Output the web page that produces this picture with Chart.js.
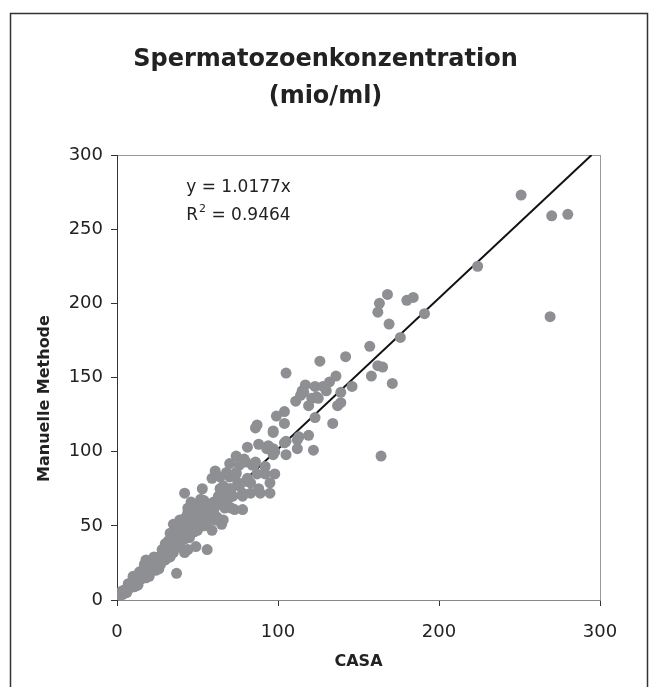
<!DOCTYPE html>
<html>
<head>
<meta charset="utf-8">
<script src="https://cdn.jsdelivr.net/npm/chart.js@4"></script>
<style>
  html, body { margin: 0; padding: 0; background: #fff; }
</style>
</head>
<body>
<canvas id="chart" width="651" height="687"></canvas>
<script>
// CASA (x) and manual count (y) per sample, mio/ml
const casa = [
  251, 270, 280, 224, 269, 168, 163, 180, 184, 162, 191, 169, 176, 157, 142, 162, 165, 158, 171, 136,
  146, 139, 132, 137, 139, 134, 164, 126, 105, 130, 117, 123, 128, 115, 111, 121, 125, 119, 123, 104,
  99, 104, 86, 87, 97, 105, 112, 119, 122, 112, 105, 97, 94, 88, 81, 97, 86, 84, 79, 74,
  70, 76, 92, 98, 95, 89, 81, 74, 70, 75, 61, 64, 59, 53, 42, 66, 70, 76, 83, 78,
  83, 73, 78, 66, 62, 65, 97, 116, 114, 124, 113, 98, 88, 95, 71, 52, 47, 54, 60, 64,
  58, 62, 43, 39, 35, 45, 50, 54, 37, 49, 56, 61, 42, 0, 1, 3, 7, 10, 14, 17,
  18, 23, 28, 32, 33, 36, 40, 44, 49, 54, 42, 38, 46, 50, 44, 35, 21, 15, 11, 5,
  25, 30, 38, 42, 52, 57, 59, 87, 93, 104, 92, 80, 85, 68, 74, 80, 71, 64, 78, 68,
  2, 4, 6, 8, 9, 12, 13, 16, 19, 20, 22, 24, 26, 27, 29, 31, 33, 34, 36, 37,
  39, 40, 41, 43, 45, 46, 47, 48, 50, 52, 53, 55, 56, 58, 60, 62, 63, 66, 67, 69,
  72, 48, 44, 46, 36, 30, 26, 18, 12
];
const manual = [
  273, 259, 260, 225, 191, 206, 200, 202, 204, 194, 193, 186, 177, 171, 164, 158, 157, 151, 146, 151,
  144, 140, 147, 131, 133, 119, 97, 161, 153, 141, 145, 144, 144, 141, 134, 136, 136, 131, 123, 127,
  124, 119, 116, 118, 114, 107, 108, 111, 101, 102, 98, 102, 104, 105, 103, 98, 93, 91, 95, 97,
  92, 91, 85, 85, 79, 72, 82, 85, 83, 79, 87, 83, 82, 75, 72, 77, 75, 77, 79, 70,
  72, 61, 61, 54, 54, 51, 113, 140, 138, 137, 110, 100, 75, 72, 62, 68, 63, 61, 66, 68,
  59, 56, 56, 54, 51, 52, 54, 50, 18, 36, 34, 54, 32, 0, 1, 6, 11, 16, 19, 24,
  27, 29, 34, 40, 45, 50, 54, 59, 64, 67, 41, 36, 45, 50, 34, 32, 23, 14, 9, 7,
  25, 27, 45, 50, 59, 61, 47, 85, 102, 106, 90, 93, 91, 86, 86, 80, 75, 75, 72, 70,
  3, 4, 5, 8, 12, 13, 10, 17, 20, 16, 26, 20, 29, 24, 31, 34, 29, 38, 40, 43,
  38, 47, 44, 48, 42, 50, 55, 46, 47, 52, 56, 58, 52, 63, 60, 64, 70, 66, 62, 68,
  70, 58, 62, 66, 47, 38, 21, 15, 16
];

// trendline through the origin as printed on the chart
const slope = 1.0177;
const rSquared = 0.9464;
const trendX = [0, 300 / slope];

const xTicks = [0, 100, 200, 300];
const yTicks = [0, 50, 100, 150, 200, 250, 300];

const points = casa.map((x, i) => ({ x: x, y: manual[i] }));
const trend = trendX.map(x => ({ x: x, y: slope * x }));

const FONT = "'DejaVu Sans', Verdana, sans-serif";
const TEXT = '#222';

const framePlugin = {
  id: 'frame',
  beforeDraw(chart) {
    const { ctx, chartArea: a } = chart;
    ctx.save();
    ctx.fillStyle = '#fff';
    ctx.fillRect(0, 0, chart.width, chart.height);
    // outer box around the whole figure
    ctx.strokeStyle = '#333';
    ctx.lineWidth = 1.5;
    ctx.strokeRect(10.5, 13.5, 637, 700);
    // plot area box
    ctx.strokeStyle = '#999';
    ctx.lineWidth = 1;
    ctx.strokeRect(a.left + 0.5, a.top + 0.5, a.right - a.left, a.bottom - a.top);
    ctx.restore();
  },
  afterDatasetsDraw(chart) {
    const { ctx, scales, chartArea: a } = chart;
    ctx.save();
    ctx.fillStyle = TEXT;

    // y axis title, sits a bit below the middle of the axis in the original
    ctx.save();
    ctx.translate(45, (a.top + a.bottom) / 2 + 21);
    ctx.rotate(-Math.PI / 2);
    ctx.textAlign = 'center';
    ctx.textBaseline = 'middle';
    ctx.font = 'bold 16px ' + FONT;
    ctx.fillText('Manuelle Methode', 0, 0);
    ctx.restore();

    // regression equation
    const x0 = scales.x.getPixelForValue(43);
    const y1 = scales.y.getPixelForValue(278);
    const y2 = scales.y.getPixelForValue(259);
    ctx.textBaseline = 'middle';
    ctx.textAlign = 'left';
    ctx.font = '17px ' + FONT;
    ctx.fillText('y = ' + slope + 'x', x0, y1);
    ctx.fillText('R', x0, y2);
    let w = ctx.measureText('R').width;
    ctx.font = '11px ' + FONT;
    ctx.fillText('2', x0 + w + 1, y2 - 7);
    w += ctx.measureText('2').width + 1;
    ctx.font = '17px ' + FONT;
    ctx.fillText(' = ' + rSquared, x0 + w, y2);
    ctx.restore();
  }
};

new Chart(document.getElementById('chart'), {
  type: 'scatter',
  data: {
    datasets: [
      {
        label: 'Proben',
        data: points,
        backgroundColor: '#8e8f92',
        borderWidth: 0,
        pointRadius: 5.5,
        pointHoverRadius: 5.5,
        order: 0
      },
      {
        label: 'Trend',
        type: 'line',
        data: trend,
        borderColor: '#111',
        borderWidth: 2,
        pointRadius: 0,
        fill: false,
        order: 1
      }
    ]
  },
  options: {
    responsive: false,
    animation: false,
    layout: { padding: 0 },
    plugins: {
      legend: { display: false },
      tooltip: { enabled: false },
      title: {
        display: true,
        text: ['Spermatozoenkonzentration', '(mio/ml)'],
        color: TEXT,
        font: { family: FONT, size: 24, weight: 'bold', lineHeight: 37 / 24 },
        padding: { top: 41, bottom: 40 }
      }
    },
    scales: {
      x: {
        type: 'linear',
        min: 0,
        max: 300,
        afterFit: s => { s.height = 87; },
        afterBuildTicks: s => { s.ticks = xTicks.map(v => ({ value: v })); },
        border: { color: '#888', width: 1 },
        grid: { drawOnChartArea: false, drawTicks: true, tickLength: 6, color: '#333' },
        ticks: { color: TEXT, padding: 16, font: { family: FONT, size: 18 } },
        title: {
          display: true,
          text: 'CASA',
          color: TEXT,
          font: { family: FONT, size: 16, weight: 'bold' },
          padding: { top: 0, bottom: 16 }
        }
      },
      y: {
        type: 'linear',
        min: 0,
        max: 300,
        afterFit: s => { s.width = 117; },
        afterBuildTicks: s => { s.ticks = yTicks.map(v => ({ value: v })); },
        border: { color: '#333', width: 1 },
        grid: { drawOnChartArea: false, drawTicks: true, tickLength: 6, color: '#333' },
        ticks: { color: TEXT, padding: 8, font: { family: FONT, size: 18 } }
      },
      // empty right-hand strip so the title centres on the whole figure
      spacer: {
        type: 'linear',
        position: 'right',
        afterFit: s => { s.width = 51; },
        ticks: { display: false },
        grid: { display: false },
        border: { display: false }
      }
    }
  },
  plugins: [framePlugin]
});
</script>
</body>
</html>
